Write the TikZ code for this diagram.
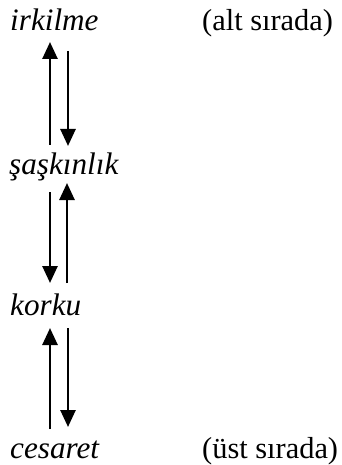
\documentclass[tikz,border=0pt]{standalone}
\usepackage{fontspec}
\setmainfont{Liberation Serif}
\usetikzlibrary{arrows.meta}
\begin{document}
\begin{tikzpicture}[x=1pt,y=-1pt,
  word/.style={anchor=base west,inner sep=0pt,font=\fontsize{31.2}{34}\selectfont\itshape},
  note/.style={anchor=base west,inner sep=0pt,font=\fontsize{30.4}{34}\selectfont},
  arr/.style={line width=2.6pt,-{Triangle[length=17pt,width=15pt]}}]
  \useasboundingbox (0,0) rectangle (341,465);
  % emotion labels
  \node[word] (irk) at (10,31) {irkilme};
  \node[word] (sas) at (9,175) {şaşkınlık};
  \node[word] (kor) at (10,315) {korku};
  \node[word] (ces) at (10,458) {cesaret};
  % side remarks
  \node[note] (alt) at (202,31) {(alt sırada)};
  \node[note] (ust) at (202,458) {(üst sırada)};
  % arrow ends
  \coordinate (a1) at (50,145);  \coordinate (a2) at (50,42);
  \coordinate (b1) at (68,51);   \coordinate (b2) at (68,146);
  \coordinate (c1) at (50,192);  \coordinate (c2) at (50,283);
  \coordinate (d1) at (67,283);  \coordinate (d2) at (67,183);
  \coordinate (e1) at (50,429);  \coordinate (e2) at (50,328);
  \coordinate (f1) at (68,328);  \coordinate (f2) at (68,427);
  % paired transitions
  \draw[arr] (a1) -- (a2);
  \draw[arr] (b1) -- (b2);
  \draw[arr] (c1) -- (c2);
  \draw[arr] (d1) -- (d2);
  \draw[arr] (e1) -- (e2);
  \draw[arr] (f1) -- (f2);
\end{tikzpicture}
\end{document}
